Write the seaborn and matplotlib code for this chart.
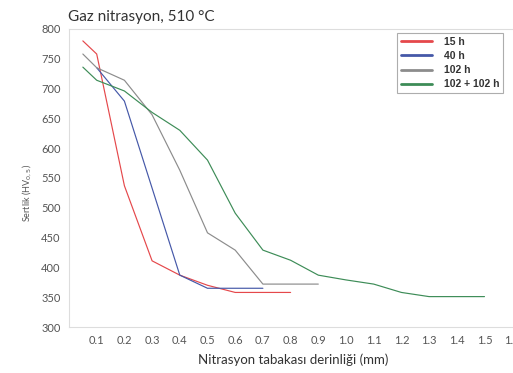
import matplotlib
matplotlib.use("Agg")
import matplotlib.pyplot as plt
import seaborn as sns
import pandas as pd

series_names = ["15 h", "40 h", "102 h", "102 + 102 h"]
x_15 = [0.05, 0.1, 0.2, 0.3, 0.4, 0.5, 0.6, 0.8]
y_15 = [780, 758, 537, 411, 387, 370, 358, 358]
x_40 = [0.1, 0.2, 0.4, 0.5, 0.7]
y_40 = [735, 679, 387, 365, 365]
x_102 = [0.05, 0.1, 0.2, 0.3, 0.4, 0.5, 0.6, 0.7, 0.9]
y_102 = [758, 735, 714, 656, 563, 458, 429, 372, 372]
x_204 = [0.05, 0.1, 0.2, 0.3, 0.4, 0.5, 0.6, 0.7, 0.8, 0.9, 1.0, 1.1, 1.2, 1.3, 1.5]
y_204 = [736, 714, 696, 660, 630, 580, 491, 429, 412, 387, 379, 372, 358, 351, 351]
x_ticks = [0.1, 0.2, 0.3, 0.4, 0.5, 0.6, 0.7, 0.8, 0.9, 1.0, 1.1, 1.2, 1.3, 1.4, 1.5, 1.6]
y_ticks = [300, 350, 400, 450, 500, 550, 600, 650, 700, 750, 800]
colors = ["#e5484b", "#4558a8", "#8c8c8c", "#3d8c57"]

frames = []
for name, xs, ys in zip(series_names, [x_15, x_40, x_102, x_204], [y_15, y_40, y_102, y_204]):
    frames.append(pd.DataFrame({"x": xs, "y": ys, "s": name}))
df = pd.concat(frames, ignore_index=True)

sns.set_style("white")
plt.rcParams['font.family'] = ['Lato', 'DejaVu Sans']
fig = plt.figure(figsize=(5.13, 3.73), dpi=100)
ax = fig.add_axes([0.1345, 0.1233, 1.62 * 277 / 513, 0.799])
sns.lineplot(data=df, x="x", y="y", hue="s", palette=colors, sort=False,
             estimator=None, linewidth=0.85, ax=ax)
ax.set_xlim(0, 1.62)
ax.set_ylim(300, 800)
ax.set_xticks(x_ticks)
ax.set_xticklabels([f"{v:.1f}" for v in x_ticks])
ax.set_yticks(y_ticks)
ax.tick_params(axis="both", direction="in", length=3, width=0.6, colors="#cccccc",
               labelcolor="#555555", labelsize=8, pad=6)
for side in ["left", "bottom", "top"]:
    ax.spines[side].set_color("#dddddd")
    ax.spines[side].set_linewidth(0.8)
ax.spines["right"].set_visible(False)
ax.set_xlabel("Nitrasyon tabakası derinliği (mm)", fontsize=9.5, color="#333333", labelpad=5)
ax.set_ylabel("Sertlik (HV$_{0,5}$)", fontsize=6.5, color="#555555")
ax.yaxis.set_label_coords(-0.078, 0.45)
fig.text(0.133, 0.955, "Gaz nitrasyon, 510 °C", fontsize=11, color="#333333", va="center")
leg = ax.legend(loc="upper right", bbox_to_anchor=(508 / 513, 345 / 373),
                bbox_transform=fig.transFigure,
                frameon=True, fancybox=False, handlelength=3.0,
                borderpad=0.35, labelspacing=0.4, handletextpad=1.1,
                prop={"family": "Liberation Sans", "weight": "bold", "size": 7.5})
leg.get_frame().set_edgecolor("#999999")
leg.get_frame().set_linewidth(0.8)
for t in leg.get_texts():
    t.set_color("#333333")
for l in leg.get_lines():
    l.set_linewidth(2)
fig.savefig("out.png", dpi=100)
